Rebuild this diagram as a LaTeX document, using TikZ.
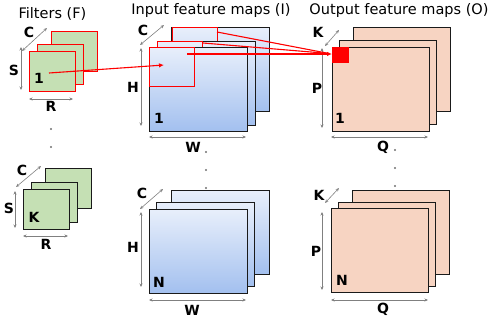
\documentclass[tikz,border=0pt]{standalone}
\usepackage{fontspec}
\setmainfont{DejaVu Sans}
\usetikzlibrary{arrows.meta}
\definecolor{fgreen}{HTML}{C5E0B4}
\definecolor{peach}{HTML}{F7D4C2}
\definecolor{blueA}{HTML}{E8EFFB}
\definecolor{blueB}{HTML}{A3C0EF}
\definecolor{dimgray}{HTML}{808080}
\definecolor{dotgray}{HTML}{707070}
\definecolor{edge}{HTML}{1A1A1A}
\begin{document}
\begin{tikzpicture}[x=1pt,y=-1pt,
  fmap/.style={draw=edge, line width=0.9pt, inner sep=0pt, outer sep=0pt, anchor=north west},
  filt/.style={fmap, fill=fgreen, minimum width=46pt, minimum height=40pt},
  inmap/.style={fmap, top color=blueA, bottom color=blueB, minimum width=98pt, minimum height=84pt},
  outmap/.style={fmap, fill=peach, minimum width=97pt, minimum height=84pt},
  win/.style={draw=red, line width=1pt, inner sep=0pt, outer sep=0pt, anchor=north west, minimum width=45pt, minimum height=39pt},
  dim/.style={draw=dimgray, line width=0.6pt, {Stealth[length=3.5pt,width=3pt]}-{Stealth[length=3.5pt,width=3pt]}},
  lab/.style={font=\bfseries\fontsize{14}{14}\selectfont, inner sep=0pt},
  ttl/.style={font=\fontsize{14.5}{15}\selectfont, inner sep=0pt, anchor=base},
  conn/.style={draw=red, line width=1.1pt},
  connarrow/.style={conn, -{Latex[length=5pt,width=4.5pt]}},
  dotm/.style={circle, fill=dotgray, inner sep=0pt, minimum size=2.2pt}
]
\useasboundingbox (0,0) rectangle (491,322);

% titles
\node[ttl] (tF) at (52.5,18) {Filters (F)};
\node[ttl] (tI) at (211,14) {Input feature maps (I)};
\node[ttl] (tO) at (399,14) {Output feature maps (O)};

% ---------- filters, group 1 ----------
\node[filt, draw=red] (f1c) at (51,31) {};
\node[filt, draw=red] (f1b) at (37,44) {};
\node[filt, draw=red] (f1a) at (29,51) {};
\node[lab] (f1n) at (39,78) {1};
\node[lab] (f1C) at (29,32) {C};
\node[lab] (f1S) at (14,70) {S};
\node[lab] (f1R) at (51,106) {R};
\coordinate (f1c1) at (22,51); \coordinate (f1c2) at (47,28);
\coordinate (f1s1) at (21,47); \coordinate (f1s2) at (21,90);
\coordinate (f1r1) at (29,99); \coordinate (f1r2) at (73,99);
\draw[dim] (f1c1) -- (f1c2);
\draw[dim] (f1s1) -- (f1s2);
\draw[dim] (f1r1) -- (f1r2);

% dots
\node[dotm] (fd1) at (51,129) {};
\node[dotm] (fd2) at (51,147) {};

% ---------- filters, group K ----------
\node[filt] (f2c) at (45,168) {};
\node[filt] (f2b) at (31,182) {};
\node[filt] (f2a) at (23,189) {};
\node[lab] (f2n) at (34,217) {K};
\node[lab] (f2C) at (22,170) {C};
\node[lab] (f2S) at (9,208) {S};
\node[lab] (f2R) at (46,244) {R};
\coordinate (f2c1) at (16,187); \coordinate (f2c2) at (41,166);
\coordinate (f2s1) at (15,191); \coordinate (f2s2) at (15,228);
\coordinate (f2r1) at (23,236); \coordinate (f2r2) at (68,236);
\draw[dim] (f2c1) -- (f2c2);
\draw[dim] (f2s1) -- (f2s2);
\draw[dim] (f2r1) -- (f2r2);

% ---------- input maps, group 1 ----------
\node[inmap] (i1c) at (171,27) {};
\node[win] (w1c) at (172,27) {};
\node[inmap] (i1b) at (157,41) {};
\node[win] (w1b) at (157,41) {};
\node[inmap] (i1a) at (149,47) {};
\node[win] (w1a) at (149,47) {};
\node[lab] (i1n) at (159,118) {1};
\node[lab] (i1C) at (143,30) {C};
\node[lab] (i1H) at (133,87) {H};
\node[lab] (i1W) at (193,147) {W};
\coordinate (i1c1) at (140,45); \coordinate (i1c2) at (164,25);
\coordinate (i1h1) at (141,48); \coordinate (i1h2) at (141,126);
\coordinate (i1w1) at (149,137); \coordinate (i1w2) at (246,137);
\draw[dim] (i1c1) -- (i1c2);
\draw[dim] (i1h1) -- (i1h2);
\draw[dim] (i1w1) -- (i1w2);

\node[dotm] (id1) at (206,152) {};
\node[dotm] (id2) at (206,170) {};
\node[dotm] (id3) at (206,188) {};

% ---------- input maps, group N ----------
\node[inmap] (i2c) at (171,190) {};
\node[inmap] (i2b) at (156,202) {};
\node[inmap] (i2a) at (149,209) {};
\node[lab] (i2n) at (159,282) {N};
\node[lab] (i2C) at (142,193) {C};
\node[lab] (i2H) at (133,247) {H};
\node[lab] (i2W) at (192,310) {W};
\coordinate (i2c1) at (140,209); \coordinate (i2c2) at (163,189);
\coordinate (i2h1) at (141,212); \coordinate (i2h2) at (141,287);
\coordinate (i2w1) at (149,300); \coordinate (i2w2) at (246,300);
\draw[dim] (i2c1) -- (i2c2);
\draw[dim] (i2h1) -- (i2h2);
\draw[dim] (i2w1) -- (i2w2);

% ---------- output maps, group 1 ----------
\node[outmap] (o1c) at (353,27) {};
\node[outmap] (o1b) at (339,40) {};
\node[outmap] (o1a) at (332,47) {};
\node[fill=red, draw=red, line width=0.5pt, inner sep=0pt, anchor=north west, minimum width=16pt, minimum height=15pt] (o1px) at (332,47) {};
\node[lab] (o1n) at (340,118) {1};
\node[lab] (o1K) at (318,32) {K};
\node[lab] (o1P) at (317,88) {P};
\node[lab] (o1Q) at (383,147) {Q};
\coordinate (o1k1) at (325,46); \coordinate (o1k2) at (339,30);
\coordinate (o1p1) at (322,48); \coordinate (o1p2) at (322,128);
\coordinate (o1q1) at (331,137); \coordinate (o1q2) at (428,137);
\draw[dim] (o1k1) -- (o1k2);
\draw[dim] (o1p1) -- (o1p2);
\draw[dim] (o1q1) -- (o1q2);

\node[dotm] (od1) at (395,150) {};
\node[dotm] (od2) at (395,168) {};
\node[dotm] (od3) at (395,186) {};

% ---------- output maps, group N ----------
\node[outmap] (o2c) at (352,190) {};
\node[outmap] (o2b) at (338,202) {};
\node[outmap] (o2a) at (331,208) {};
\node[lab] (o2n) at (342,280) {N};
\node[lab] (o2K) at (319,195) {K};
\node[lab] (o2P) at (316,251) {P};
\node[lab] (o2Q) at (383,309) {Q};
\coordinate (o2k1) at (325,203); \coordinate (o2k2) at (339,188);
\coordinate (o2p1) at (322,212); \coordinate (o2p2) at (322,290);
\coordinate (o2q1) at (331,300); \coordinate (o2q2) at (428,300);
\draw[dim] (o2k1) -- (o2k2);
\draw[dim] (o2p1) -- (o2p2);
\draw[dim] (o2q1) -- (o2q2);

% ---------- red connectors ----------
\coordinate (fs) at (49,73);
\coordinate (ie) at (164,65);
\draw[connarrow] (fs) -- (ie);
\coordinate (sa) at (187,54);
\coordinate (sb) at (203,43);
\coordinate (sc) at (217,32);
\coordinate (oend) at (332,54);
\coordinate (oend2) at (329,53.5);
\draw[conn] (sc) -- (oend2);
\draw[conn] (sb) -- (oend2);
\draw[connarrow] (sa) -- (oend);
\end{tikzpicture}
\end{document}
